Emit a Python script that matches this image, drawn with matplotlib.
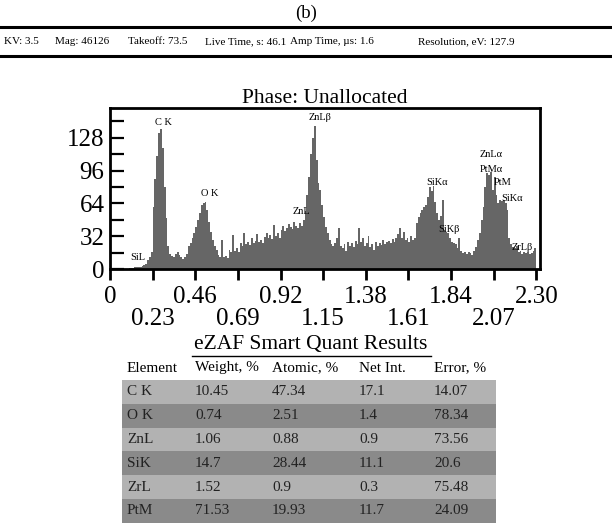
import numpy as np
import matplotlib
matplotlib.use("Agg")
import matplotlib.pyplot as plt
from matplotlib.patches import Rectangle
from matplotlib.lines import Line2D

plt.rcParams['font.family'] = ['Liberation Serif', 'DejaVu Serif']

# ---------------- data ----------------
e_start = 0.10
e_step = 0.01
counts = [
    1, 1, 1, 2, 2, 2, 2, 3, 4, 5,            # 0.10-0.19
    9, 12, 17, 60, 88, 110, 133, 137, 118, 80,  # 0.20-0.29
    50, 22, 15, 13, 12, 15, 17, 14, 12, 10,  # 0.30-0.39
    12, 15, 22, 25, 30, 35, 41, 48, 55, 62,  # 0.40-0.49
    64, 65, 58, 46, 36, 28, 22, 19, 14, 12,  # 0.50-0.59
    28, 12, 13, 11, 19, 17, 33, 18, 20, 17,  # 0.60-0.69
    25, 22, 35, 24, 26, 23, 30, 25, 27, 34,  # 0.70-0.79
    26, 28, 25, 31, 35, 30, 33, 29, 43, 32,  # 0.80-0.89
    35, 30, 38, 42, 37, 40, 44, 41, 39, 46,  # 0.90-0.99
    42, 40, 45, 42, 48, 57, 72, 90, 112, 128,  # 1.00-1.09
    139, 106, 84, 77, 62, 51, 41, 35, 28, 24,  # 1.10-1.19
    22, 25, 30, 40, 22, 20, 24, 18, 26, 22,  # 1.20-1.29
    25, 21, 27, 24, 40, 26, 30, 22, 25, 32,  # 1.30-1.39
    21, 24, 19, 26, 22, 25, 23, 28, 24, 26,  # 1.40-1.49
    27, 25, 29, 26, 30, 34, 40, 30, 36, 28,  # 1.50-1.59
    30, 26, 32, 28, 30, 45, 51, 55, 58, 60,  # 1.60-1.69
    62, 70, 80, 76, 81, 65, 55, 48, 52, 67,  # 1.70-1.79
    38, 36, 35, 30, 26, 25, 24, 20, 30, 18,  # 1.80-1.89
    16, 17, 15, 17, 16, 14, 18, 21, 28, 35,  # 1.90-1.99
    48, 60, 80, 94, 92, 95, 77, 90, 72, 64,  # 2.00-2.09
    67, 66, 67, 64, 58, 30, 24, 21, 20, 22,  # 2.10-2.19
    17, 18, 15, 17, 16, 17, 15, 16, 18, 20,  # 2.20-2.29
]

peak_labels = ["SiL", "C K", "O K", "ZnL", "ZnLβ", "SiKα", "SiKβ",
               "ZnLα", "PtMα", "PtM", "SiKα", "ZrLβ"]
peak_x = [0.151, 0.291, 0.54, 1.03, 1.133, 1.762, 1.83, 2.056, 2.056, 2.116, 2.17, 2.223]
peak_y = [11, 143, 74, 56, 148, 84, 39, 112, 97.5, 84, 69, 21]

xtick_vals = [0, 0.23, 0.46, 0.69, 0.92, 1.15, 1.38, 1.61, 1.84, 2.07, 2.30]
xtick_text = ["0", "0.23", "0.46", "0.69", "0.92", "1.15", "1.38", "1.61", "1.84", "2.07", "2.30"]
ytick_vals = [0, 16, 32, 48, 64, 80, 96, 112, 128, 144]
ytick_text = ["0", "", "32", "", "64", "", "96", "", "128", ""]

header_items = ["KV: 3.5", "Mag: 46126", "Takeoff: 73.5", "Live Time, s: 46.1",
                "Amp Time, µs: 1.6", "Resolution, eV: 127.9"]

table_cols = ["Element", "Weight, %", "Atomic, %", "Net Int.", "Error, %"]
elements = ["C K", "O K", "ZnL", "SiK", "ZrL", "PtM"]
weight = ["10.45", "0.74", "1.06", "14.7", "1.52", "71.53"]
atomic = ["47.34", "2.51", "0.88", "28.44", "0.9", "19.93"]
net_int = ["17.1", "1.4", "0.9", "11.1", "0.3", "11.7"]
error = ["14.07", "78.34", "73.56", "20.6", "75.48", "24.09"]

# ---------------- figure ----------------
W, H = 612, 523
fig = plt.figure(figsize=(W / 100, H / 100), dpi=100)

def fx(px):
    return px / W

def fy(py):
    return 1 - py / H

# title (b)
fig.text(fx(306), fy(13), "(b)", ha="center", va="center", fontsize=13.5)

# header bar
for yy in (27, 56):
    fig.add_artist(Line2D([0, 1], [fy(yy), fy(yy)], color="black", lw=2.2,
                          transform=fig.transFigure))
header_x = [4, 55, 128, 205, 290, 418]
for x0, t in zip(header_x, header_items):
    fig.text(fx(x0), fy(42), t, ha="left", va="center", fontsize=8)

# spectrum axes
ax = fig.add_axes([fx(110), fy(269), fx(540) - fx(110), fy(108) - fy(269)])
counts = np.array(counts, dtype=float)
edges = e_start + e_step * np.arange(len(counts) + 1)
vals = np.append(counts, counts[-1])
ax.fill_between(edges, 0, vals, step="post", color="#666666", lw=0)
ax.set_xlim(0, 2.32)
ax.set_ylim(0, 157)

for s in ax.spines.values():
    s.set_linewidth(2)

ax.set_yticks(ytick_vals)
ax.set_yticklabels(ytick_text, fontsize=18)
ax.tick_params(axis="y", direction="in", length=10, width=1.6, pad=4)

ax.set_xticks(xtick_vals)
lbls = []
for i, t in enumerate(xtick_text):
    lbls.append(t if i % 2 == 0 else "\n" + t)
ax.set_xticklabels(lbls, fontsize=18)
for tl in ax.get_xticklabels():
    tl.set_linespacing(1.0)
ax.tick_params(axis="x", direction="out", length=8, width=2, pad=4.5)

for t, x, y in zip(peak_labels, peak_x, peak_y):
    ax.text(x, y, t, ha="center", va="center", fontsize=7.5)

ax.set_title("Phase: Unallocated", fontsize=15.5, pad=2)

# eZAF heading, underlined
fig.text(fx(311), fy(344), "eZAF Smart Quant Results", ha="center",
         va="center", fontsize=15.5)
fig.add_artist(Line2D([fx(192), fx(431)], [fy(356), fy(356)], color="black",
                      lw=1.0, transform=fig.transFigure))

# table
col_x = [127, 195, 272, 359, 434]
for x0, c in zip(col_x, table_cols):
    fig.text(fx(x0), fy(368), c, ha="left", va="center", fontsize=11)

row_h = 23.8
top = 380
for i in range(len(elements)):
    y0 = top + i * row_h
    col = "#b2b2b2" if i % 2 == 0 else "#8a8a8a"
    fig.add_artist(Rectangle((fx(122), fy(y0 + row_h)), fx(496) - fx(122),
                             fy(y0) - fy(y0 + row_h), facecolor=col,
                             edgecolor="none", transform=fig.transFigure))
    yc = y0 + row_h / 2
    row = [elements[i], weight[i], atomic[i], net_int[i], error[i]]
    for x0, v in zip(col_x, row):
        fig.text(fx(x0), fy(yc), v, ha="left", va="center", fontsize=11,
                 color="#222222")

fig.savefig("out.png", dpi=100)
